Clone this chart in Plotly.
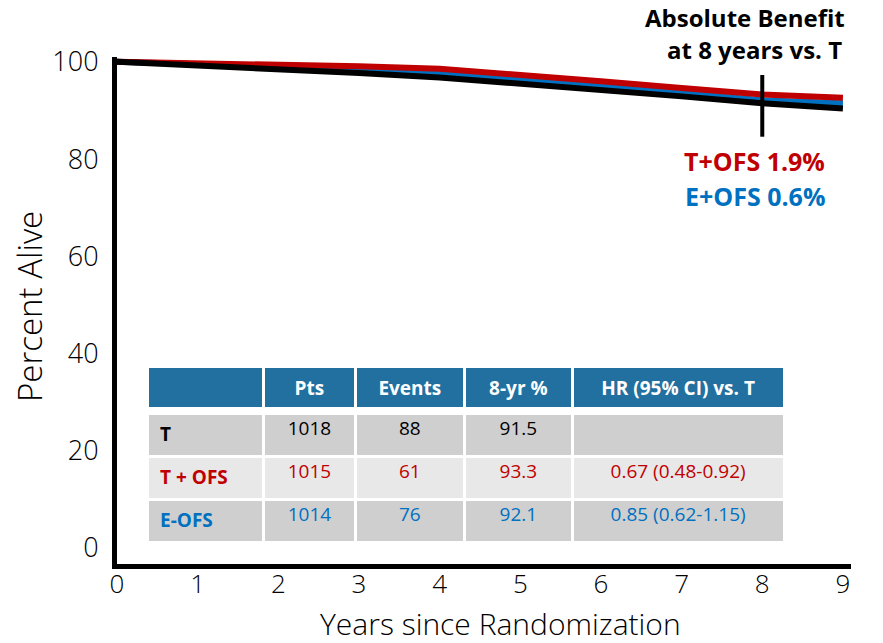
import plotly.graph_objects as go

# Survival curves (percent alive by year since randomization)
years = [0, 1, 2, 3, 4, 5, 6, 7, 8, 9]
t_alone = [100, 99.3, 98.5, 97.7, 96.8, 95.6, 94.3, 92.9, 91.5, 90.4]
t_ofs = [100, 99.8, 99.5, 99.1, 98.6, 97.4, 96.0, 94.6, 93.3, 92.6]
e_ofs = [100, 99.6, 99.1, 98.5, 97.9, 96.6, 95.2, 93.6, 92.1, 91.5]

# Marker at 8 years
mark_year = 8
mark_span = [97.3, 84.6]

# Summary table
table_header = ["", "Pts", "Events", "8-yr %", "HR (95% CI) vs. T"]
arm_labels = ["T", "T + OFS", "E-OFS"]
pts = ["1018", "1015", "1014"]
events = ["88", "61", "76"]
pct8 = ["91.5", "93.3", "92.1"]
hr_ci = ["", "0.67 (0.48-0.92)", "0.85 (0.62-1.15)"]

BLACK = "#000000"
RED = "#C00000"
BLUE = "#0070C0"
FONT = "Open Sans"

fig = go.Figure()

for ys, col in [(e_ofs, BLUE), (t_ofs, RED), (t_alone, BLACK)]:
    fig.add_trace(go.Scatter(x=years, y=ys, mode="lines",
                             line=dict(color=col, width=6),
                             cliponaxis=False, showlegend=False,
                             hoverinfo="skip"))

fig.add_trace(go.Scatter(x=[mark_year, mark_year], y=mark_span, mode="lines",
                         line=dict(color=BLACK, width=4),
                         cliponaxis=False, showlegend=False, hoverinfo="skip"))

# Table: one header-style strip per row so each band can be spaced freely
row_colors = [BLACK, RED, BLUE]
row_fills = ["#CFCFCF", "#E8E8E8", "#CFCFCF"]
colwidths = [115, 90, 108, 106, 209]
aligns = ["left", "center", "center", "center", "center"]
tx = [0.041, 0.910]
PLOT_H = 507  # plot-area height in px, used to size the table bands


def band(top_frac, height_px):
    return [top_frac - (height_px + 4) / PLOT_H, top_frac]


def strip(values, fill, font_color, height, top_frac, align):
    fig.add_trace(go.Table(
        domain=dict(x=tx, y=band(top_frac, height)),
        columnwidth=colwidths,
        header=dict(values=values, fill_color=fill,
                    line=dict(color="white", width=3),
                    font=dict(family=FONT, size=19, color=font_color),
                    align=align, height=height),
        cells=dict(values=[[] for _ in values]),
    ))


strip([f"<b>{h}</b>" for h in table_header], "#21709F", "white", 38,
      0.3886, "center")

row_tops = [0.2978, 0.2130, 0.1282]
for i, arm in enumerate(arm_labels):
    vals = [f"\u00a0<b>{arm}</b>", pts[i], events[i], pct8[i], hr_ci[i]]
    strip(vals, row_fills[i], row_colors[i], 43, row_tops[i], aligns)

annots = [
    dict(text="<b>Absolute Benefit</b>", x=0.856, y=1.077, size=24, color=BLACK),
    dict(text="<b>at 8 years vs. T</b>", x=0.869, y=1.014, size=24, color=BLACK),
    dict(text="<b>T+OFS 1.9%</b>", x=0.869, y=0.795, size=25, color=RED),
    dict(text="<b>E+OFS 0.6%</b>", x=0.869, y=0.726, size=25, color=BLUE),
]
for a in annots:
    fig.add_annotation(text=a["text"], xref="paper", yref="paper",
                       x=a["x"], y=a["y"], xanchor="center", yanchor="middle",
                       showarrow=False,
                       font=dict(family=FONT, size=a["size"], color=a["color"]))

# Axis titles
fig.add_annotation(text="Years since Randomization", xref="paper", yref="paper",
                   x=0.522, y=-0.118, xanchor="center", yanchor="middle",
                   showarrow=False,
                   font=dict(family=FONT, size=30, color=BLACK, weight=300))
fig.add_annotation(text="Percent Alive", xref="paper", yref="paper",
                   x=-0.1185, y=0.507, xanchor="center", yanchor="middle",
                   textangle=-90, showarrow=False,
                   font=dict(family=FONT, size=33, color=BLACK, weight=300))

fig.update_layout(
    width=883, height=643,
    margin=dict(l=117, r=32, t=57, b=79, autoexpand=False),
    paper_bgcolor="white", plot_bgcolor="white",
    font=dict(family=FONT, color=BLACK),
    xaxis=dict(range=[0, 9.1], tickvals=years, showgrid=False, zeroline=False,
               showline=True, linecolor=BLACK, linewidth=5, ticks="",
               automargin=False,
               tickfont=dict(size=26, weight=300), ticklabelstandoff=-7),
    yaxis=dict(range=[-3.3, 101], tickvals=[0, 20, 40, 60, 80, 100],
               showgrid=False, zeroline=False, automargin=False,
               showline=True, linecolor=BLACK, linewidth=5, ticks="",
               tickfont=dict(size=27, weight=300), ticklabelstandoff=8),
)

fig.write_html("out.html")
